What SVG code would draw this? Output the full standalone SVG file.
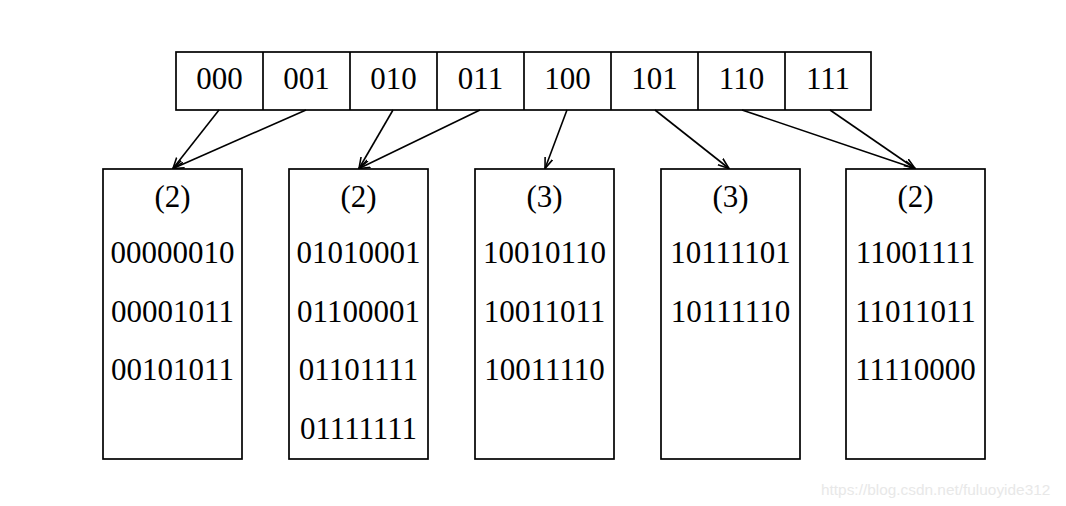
<svg xmlns="http://www.w3.org/2000/svg" width="1066" height="506" viewBox="0 0 1066 506">
<style>
.box{fill:#fff;stroke:#000;stroke-width:1.7}
.t{font-family:"Liberation Serif","Times New Roman",serif;font-size:31px;fill:#000;text-anchor:middle}
.c{stroke:#000;stroke-width:1.6;fill:none;marker-end:url(#ah)}
.wm{font-family:"Liberation Sans",Arial,sans-serif;font-size:15.4px;fill:#e8e8e8}
</style>
<defs>
<marker id="ah" viewBox="0 0 12 10" refX="11" refY="5" markerWidth="12" markerHeight="10" markerUnits="userSpaceOnUse" orient="auto">
<path d="M0,1 L11,5 L0,9" fill="none" stroke="#000" stroke-width="1.6"/>
</marker>
</defs>
<rect width="1066" height="506" fill="#fff"/>
<g id="directory">
<rect class="box" x="176" y="52" width="695" height="58"/>
<path d="M263,52V110M350,52V110M437,52V110M524,52V110M611,52V110M698,52V110M785,52V110" stroke="#000" stroke-width="1.7"/>
<text class="t" x="219.5" y="89">000</text>
<text class="t" x="306.5" y="89">001</text>
<text class="t" x="393.5" y="89">010</text>
<text class="t" x="480.5" y="89">011</text>
<text class="t" x="567.5" y="89">100</text>
<text class="t" x="654.5" y="89">101</text>
<text class="t" x="741.5" y="89">110</text>
<text class="t" x="828" y="89">111</text>
</g>
<g id="connectors">
<line class="c" x1="219" y1="110" x2="173" y2="168.5"/>
<line class="c" x1="306" y1="110" x2="173" y2="168.5"/>
<line class="c" x1="393" y1="110" x2="359" y2="168.5"/>
<line class="c" x1="480" y1="110" x2="359" y2="168.5"/>
<line class="c" x1="567" y1="110" x2="545" y2="168.5"/>
<line class="c" x1="655" y1="110" x2="729" y2="168.5"/>
<line class="c" x1="742" y1="110" x2="915" y2="168.5"/>
<line class="c" x1="830" y1="110" x2="915" y2="168.5"/>
</g>
<g id="bucket1">
<rect class="box" x="103" y="169" width="139" height="290"/>
<text class="t" x="172.5" y="207">(2)</text>
<text class="t" x="172.5" y="263">00000010</text>
<text class="t" x="172.5" y="322">00001011</text>
<text class="t" x="172.5" y="380">00101011</text>
</g>
<g id="bucket2">
<rect class="box" x="289" y="169" width="139" height="290"/>
<text class="t" x="358.5" y="207">(2)</text>
<text class="t" x="358.5" y="263">01010001</text>
<text class="t" x="358.5" y="322">01100001</text>
<text class="t" x="358.5" y="380">01101111</text>
<text class="t" x="358.5" y="439">01111111</text>
</g>
<g id="bucket3">
<rect class="box" x="475" y="169" width="139" height="290"/>
<text class="t" x="544.5" y="207">(3)</text>
<text class="t" x="544.5" y="263">10010110</text>
<text class="t" x="544.5" y="322">10011011</text>
<text class="t" x="544.5" y="380">10011110</text>
</g>
<g id="bucket4">
<rect class="box" x="661" y="169" width="139" height="290"/>
<text class="t" x="730.5" y="207">(3)</text>
<text class="t" x="730.5" y="263">10111101</text>
<text class="t" x="730.5" y="322">10111110</text>
</g>
<g id="bucket5">
<rect class="box" x="846" y="169" width="139" height="290"/>
<text class="t" x="915.5" y="207">(2)</text>
<text class="t" x="915.5" y="263">11001111</text>
<text class="t" x="915.5" y="322">11011011</text>
<text class="t" x="915.5" y="380">11110000</text>
</g>
<text class="wm" x="821" y="495">https://blog.csdn.net/fuluoyide312</text>
</svg>
